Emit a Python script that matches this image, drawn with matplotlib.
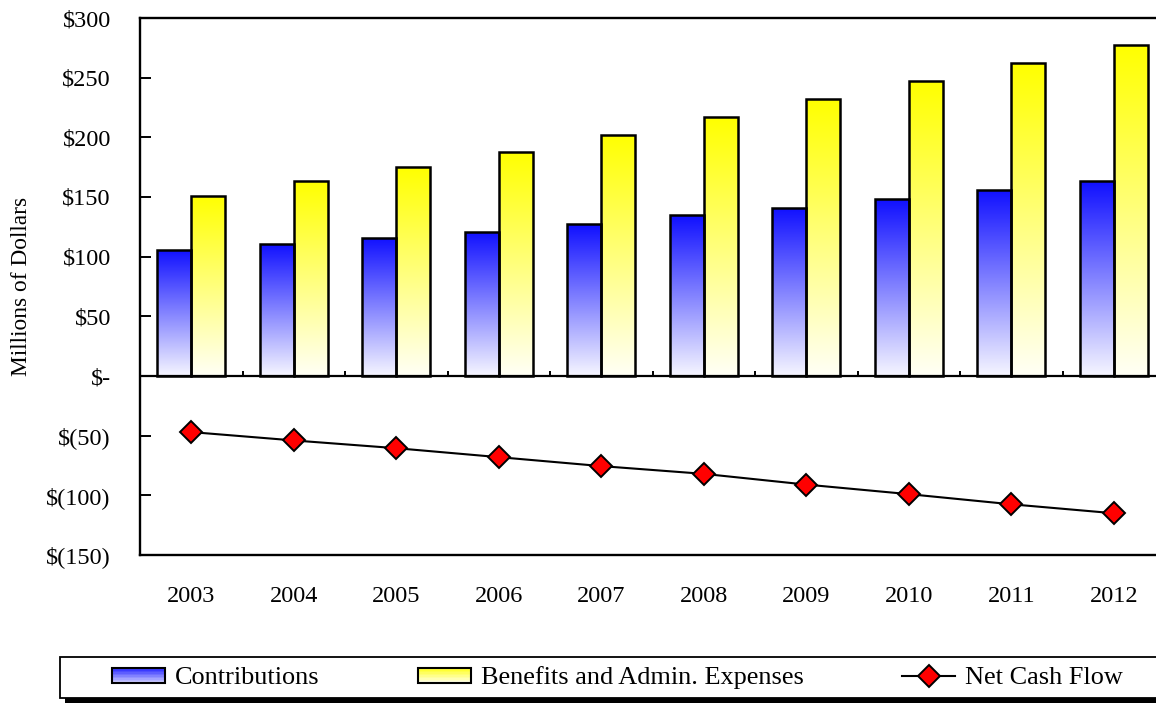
import numpy as np
import matplotlib
matplotlib.use("Agg")
import matplotlib.pyplot as plt
from matplotlib.colors import LinearSegmentedColormap, to_rgb
from matplotlib.patches import Rectangle
from matplotlib.legend_handler import HandlerBase
from matplotlib.lines import Line2D

plt.rcParams['font.family'] = ['Liberation Serif', 'DejaVu Serif']

# data (millions of dollars)
years = ['2003', '2004', '2005', '2006', '2007', '2008', '2009', '2010', '2011', '2012']
contributions = [106, 111, 116, 121, 127, 134.5, 141, 148, 156, 163]
benefits = [151, 163, 175, 188, 202, 217, 232, 247, 262, 277]
net_cash = [-47, -54, -60.5, -68, -75.5, -82, -91, -99, -107.5, -115]
ytick_vals = [300, 250, 200, 150, 100, 50, 0, -50, -100, -150]
ytick_labels = ['$300', '$250', '$200', '$150', '$100', '$50', '$-', '$(50)', '$(100)', '$(150)']

blue = '#1010ff'
yellow = '#ffff00'


def gradient_fill(ax, bars, color, bottom_color):
    # fill each bar with a vertical gradient, light at the bottom, full colour at the top
    cmap = LinearSegmentedColormap.from_list('g', [bottom_color, color])
    grad = np.linspace(0, 1, 256).reshape(-1, 1)
    for b in bars:
        x0, y0 = b.get_x(), b.get_y()
        w, h = b.get_width(), b.get_height()
        im = ax.imshow(grad, cmap=cmap, origin='lower', aspect='auto',
                       extent=[x0, x0 + w, y0, y0 + h], zorder=2)
        im.set_clip_path(b)


class GradientHandler(HandlerBase):
    # legend key drawn as stacked strips to mimic the gradient
    def __init__(self, top, bottom):
        super().__init__()
        self.top = np.array(to_rgb(top))
        self.bottom = np.array(to_rgb(bottom))

    def create_artists(self, legend, orig_handle, xdescent, ydescent, width, height, fontsize, trans):
        arts = []
        n = 10
        for k in range(n):
            f = k / (n - 1)
            c = self.bottom * (1 - f) + self.top * f
            r = Rectangle((-xdescent, -ydescent + height * k / n), width, height / n,
                          facecolor=c, edgecolor='none', transform=trans)
            arts.append(r)
        edge = Rectangle((-xdescent, -ydescent), width, height, facecolor='none',
                         edgecolor='black', lw=1.5, transform=trans)
        arts.append(edge)
        return arts


fig = plt.figure(figsize=(11.56, 7.04), dpi=100)
ax = fig.add_axes([140 / 1156, 1 - 555 / 704, 1025 / 1156, 537 / 704])

x = np.arange(len(years))
w = 0.33
bars_c = ax.bar(x - w, contributions, width=w, align='edge', facecolor='none',
                edgecolor='black', lw=1.8, zorder=3)
bars_b = ax.bar(x, benefits, width=w, align='edge', facecolor='none',
                edgecolor='black', lw=1.8, zorder=3)
gradient_fill(ax, bars_c, blue, '#f6f6ff')
gradient_fill(ax, bars_b, yellow, '#fffff6')

ax.plot(x, net_cash, color='black', lw=1.5, marker='D', markersize=11,
        markerfacecolor='red', markeredgecolor='black', markeredgewidth=1.4, zorder=4)

# zero line with small category ticks
ax.axhline(0, color='black', lw=1.6, zorder=5)
ax.vlines(x[1:] - 0.5, 0, 4, color='black', lw=1.4, zorder=5)

ax.set_xlim(-0.5, len(years) - 0.5)
ax.set_ylim(-150, 300)
ax.set_yticks(ytick_vals)
ax.set_yticklabels(ytick_labels)
ax.set_xticks(x)
ax.set_xticklabels(years)
ax.tick_params(axis='y', direction='in', length=8, width=1.4, pad=21, labelsize=17.5)
ax.tick_params(axis='x', length=0, pad=22, labelsize=17.5)
ax.set_ylabel('Millions of Dollars', fontsize=16.8)
ax.yaxis.set_label_coords(-0.105, 0.5)

for s in ['left', 'top', 'bottom']:
    ax.spines[s].set_linewidth(1.7)
ax.spines['right'].set_visible(False)

# legend frame with shadow
fig.add_artist(Rectangle((65 / 1156, 1 / 704), 1.0, 6 / 704, transform=fig.transFigure,
                         facecolor='black', edgecolor='none'))
fig.add_artist(Rectangle((60 / 1156, 6 / 704), 1.0, 41 / 704, transform=fig.transFigure,
                         facecolor='white', edgecolor='black', lw=1.3))

h_c = Rectangle((0, 0), 1, 1)
h_b = Rectangle((0, 0), 1, 1)
h_n = Line2D([], [], color='black', lw=1.5, marker='D', markersize=11,
             markerfacecolor='red', markeredgecolor='black', markeredgewidth=1.4)
fig.legend([h_c, h_b, h_n], ['Contributions', 'Benefits and Admin. Expenses', 'Net Cash Flow'],
           loc='center left', bbox_to_anchor=(112 / 1156, 1 - 678 / 704), ncol=3,
           frameon=False, fontsize=18.9, borderpad=0, borderaxespad=0,
           handlelength=2.0, handleheight=0.5, handletextpad=0.4, columnspacing=3.75,
           handler_map={h_c: GradientHandler('#2828ff', '#c8c8ff'),
                        h_b: GradientHandler('#ffff20', '#ffffe0')})

fig.savefig('out.png', dpi=100)
